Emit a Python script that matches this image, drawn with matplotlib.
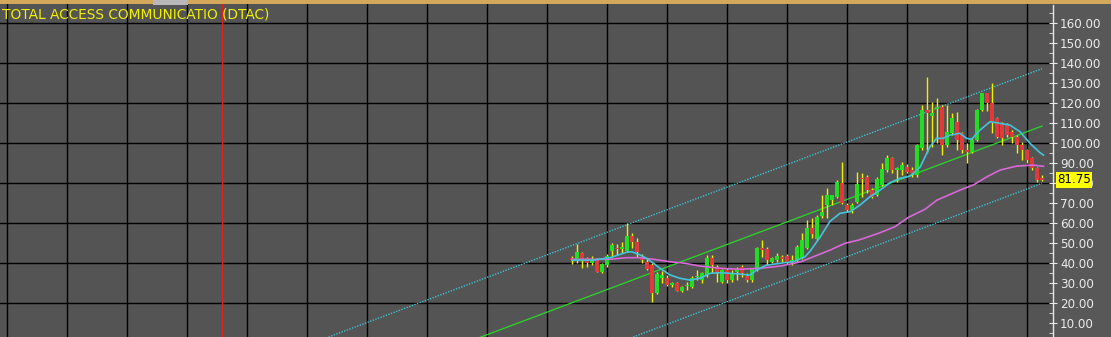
import numpy as np
import matplotlib.pyplot as plt
from matplotlib.patches import Rectangle

# weekly candles, index 0 = first bar on the chart
opens = [42.8, 41.2, 45.0, 42.5, 40.0, 41.6, 35.8, 39.2, 46.1, 47.5,
         47.0, 46.1, 53.8, 50.8, 43.0, 40.8, 39.2, 25.0, 32.5, 32.5,
         29.2, 30.0, 26.3, 28.5, 28.3, 33.0, 31.6, 34.2, 42.5, 38.3,
         30.8, 36.6, 31.6, 35.8, 38.3, 33.6, 31.6, 36.6, 47.5, 47.0,
         40.8, 41.6, 43.3, 43.6, 40.5, 41.6, 42.5, 47.5, 57.5, 52.0,
         63.5, 69.2, 71.6, 73.3, 80.3, 69.2, 66.6, 70.8, 82.5, 83.3,
         76.6, 74.2, 79.2, 86.6, 92.5, 86.6, 86.6, 88.3, 86.6, 84.2,
         97.5, 116.6, 113.6, 117.0, 118.3, 99.1, 105.0, 110.8, 105.0, 96.6,
         95.8, 101.6, 116.6, 125.0, 120.0, 112.5, 110.0, 109.0, 105.8, 103.3,
         99.1, 96.6, 92.5, 87.5, 82.5]
highs = [43.8, 49.5, 45.5, 43.0, 43.5, 42.5, 40.0, 44.5, 50.0, 49.6,
         50.8, 60.0, 55.0, 52.5, 44.5, 42.8, 40.0, 35.8, 36.2, 34.0,
         30.5, 30.5, 28.7, 30.5, 33.6, 36.6, 35.8, 44.2, 44.2, 39.2,
         37.0, 37.5, 36.6, 38.3, 39.2, 35.0, 37.5, 48.3, 51.6, 48.3,
         43.3, 45.0, 44.2, 44.6, 44.2, 49.0, 55.0, 61.6, 62.5, 64.0,
         74.2, 77.5, 74.2, 81.5, 90.8, 70.0, 70.0, 85.8, 85.0, 84.2,
         77.5, 83.0, 90.0, 94.2, 93.3, 88.3, 90.8, 89.5, 88.3, 99.5,
         119.1, 133.3, 120.8, 122.5, 119.0, 119.1, 115.0, 115.8, 105.8, 100.0,
         102.5, 117.0, 125.3, 125.3, 130.0, 113.3, 110.8, 110.0, 106.6, 104.2,
         100.8, 97.0, 93.3, 88.3, 84.0]
lows = [39.5, 40.0, 37.8, 38.3, 39.0, 35.5, 35.3, 38.3, 43.0, 44.0,
        45.0, 45.5, 47.5, 43.3, 40.0, 36.6, 20.5, 24.5, 30.0, 28.7,
        28.0, 26.0, 25.8, 26.5, 27.5, 31.5, 30.3, 33.3, 35.0, 30.8,
        30.3, 30.3, 30.8, 31.6, 33.3, 30.8, 30.8, 36.3, 43.3, 39.2,
        40.0, 40.8, 40.8, 39.6, 39.2, 40.8, 42.0, 47.0, 52.5, 51.5,
        62.5, 62.5, 69.0, 72.5, 69.5, 65.5, 65.0, 70.0, 73.3, 75.0,
        72.5, 73.5, 78.5, 85.8, 85.0, 80.8, 84.2, 85.0, 83.3, 83.3,
        96.6, 95.0, 98.3, 100.0, 94.1, 98.3, 104.0, 96.6, 95.0, 90.0,
        95.0, 101.3, 116.0, 116.0, 105.0, 102.5, 99.0, 103.0, 100.0, 95.0,
        91.6, 90.0, 86.6, 80.8, 81.0]
closes = [41.6, 45.8, 42.0, 40.3, 41.5, 35.8, 39.5, 43.6, 49.1, 47.0,
          48.0, 53.8, 50.5, 45.8, 41.5, 37.2, 25.0, 34.5, 34.3, 29.2,
          30.3, 26.3, 28.3, 29.0, 32.5, 33.8, 35.0, 42.5, 39.2, 35.0,
          36.6, 31.6, 35.3, 37.3, 35.0, 31.6, 37.0, 47.5, 46.5, 41.6,
          42.5, 43.5, 42.0, 40.8, 41.5, 48.3, 51.6, 57.5, 54.6, 63.0,
          65.5, 74.2, 74.0, 80.8, 70.0, 66.6, 69.2, 79.9, 82.0, 76.6,
          73.3, 82.0, 87.0, 92.5, 86.6, 87.5, 89.1, 85.8, 85.0, 99.1,
          116.6, 115.0, 115.3, 118.3, 99.1, 105.8, 112.5, 101.6, 96.6, 95.8,
          101.6, 116.6, 125.0, 120.0, 110.0, 103.3, 102.5, 104.0, 103.3, 99.1,
          96.6, 91.6, 87.5, 81.6, 81.75]

# moving averages (bar index, value)
ma_fast_x = [0, 4.3, 7.6, 10.9, 11.9, 13.6, 14.9, 16.3, 17.6, 19.6, 21.6, 23.6,
             25.6, 27.6, 29.6, 31.6, 33.6, 35.6, 36.9, 38.9, 41.6, 44.3, 46.6,
             47.6, 49.6, 51.6, 53.6, 55.6, 57.6, 59.6, 61.6, 63.6, 65.6, 67.6,
             69.6, 71.6, 72.9, 74.2, 75.6, 77.6, 78.9, 79.9, 81.6, 83.6, 85.6,
             87.6, 89.6, 91.6, 93.6, 94.3]
ma_fast_y = [41.6, 41.6, 42.8, 45.5, 45.8, 44.2, 42.5, 40.0, 37.5, 34.2, 32.5, 31.6,
             32.5, 35.0, 35.3, 35.0, 34.6, 34.1, 36.6, 39.1, 40.0, 40.8, 43.3,
             46.0, 53.0, 61.0, 65.0, 65.8, 69.1, 73.3, 76.6, 80.3, 82.5, 83.6,
             88.0, 98.3, 102.5, 102.5, 104.1, 105.0, 102.5, 102.0, 106.6, 110.8, 110.0,
             109.1, 105.8, 100.0, 95.3, 94.1]
ma_slow_x = [0, 7.6, 10.9, 13.6, 16.3, 19.6, 22.6, 25.6, 29.6, 33.6, 37.6, 41.6,
             45.6, 51.6, 54.6, 57.3, 61.3, 64.6, 67.3, 70.6, 73.0, 77.6, 80.3,
             83.0, 85.6, 88.9, 92.2, 94.3]
ma_slow_y = [42.0, 42.0, 42.8, 42.8, 42.0, 40.8, 40.0, 38.6, 37.5, 37.0, 37.5, 38.6,
             40.6, 46.6, 50.0, 51.6, 55.0, 58.3, 63.0, 67.0, 71.6, 76.6, 79.2,
             83.3, 86.6, 88.6, 89.1, 88.5]

# regression channel end points (bar index, value)
chan_x = [-120, 94]
chan_mid = [-92.5, 108.6]
chan_up = [-63.9, 137.3]
chan_lo = [-121.2, 80.0]

marker_bar = -70
last_price = 81.75
y_labels = list(range(10, 170, 10))

bg = '#545454'
fig = plt.figure(figsize=(11.11, 3.37), dpi=100, facecolor='#585858')
ax = fig.add_axes([0, 0, 1053 / 1111, 333 / 337])
ax.set_facecolor(bg)
ax.set_xlim(-114.4, 96.2)
ax.set_ylim(3.15, 169.65)

# grid
for gx in range(-113, 96, 12):
    ax.axvline(gx, color='black', lw=1.0, zorder=1)
for gy in range(20, 170, 20):
    ax.axhline(gy, color='black', lw=1.0, zorder=1)
ax.axvline(marker_bar, color='#e02020', lw=1.0, zorder=2)

# channel
ax.plot(chan_x, chan_mid, color='#2ecc2e', lw=1.0, zorder=3)
ax.plot(chan_x, chan_up, color='#3cc0cc', lw=1.0, ls=(0, (1, 1)), zorder=3)
ax.plot(chan_x, chan_lo, color='#3cc0cc', lw=1.0, ls=(0, (1, 1)), zorder=3)

# candles
idx = np.arange(len(closes))
o = np.array(opens); c = np.array(closes)
h = np.array(highs); l = np.array(lows)
ax.vlines(idx, l, h, color='#f0f000', lw=1.0, zorder=4)
up = c >= o
cols = np.where(up, '#22dd22', '#e23a3a')
bottoms = np.minimum(o, c)
heights = np.maximum(np.abs(c - o), 0.6)
ax.bar(idx, heights, bottom=bottoms, width=0.7, color=cols, lw=0, zorder=5)

# moving averages
ax.plot(ma_slow_x, ma_slow_y, color='#d868d8', lw=1.2, zorder=6)
ax.plot(ma_fast_x, ma_fast_y, color='#44c4dc', lw=1.2, zorder=6)

# right axis
for s in ['left', 'top', 'bottom']:
    ax.spines[s].set_visible(False)
ax.spines['right'].set_color('#e8e8e8')
ax.spines['right'].set_linestyle((0, (1, 1)))
ax.spines['right'].set_linewidth(1.0)
ax.set_xticks([])
ax.yaxis.tick_right()
ax.set_yticks(y_labels)
ax.set_yticklabels(['%.2f' % v for v in y_labels])
ax.set_yticks(np.arange(5, 170, 5), minor=True)
ax.tick_params(axis='y', which='major', direction='inout', length=6, color='#e8e8e8',
               labelcolor='#ececec', labelsize=8.6, pad=2)
ax.tick_params(axis='y', which='minor', direction='in', length=3, color='#e8e8e8')

# last price tag
ax.text(1 + 4 / 1053, last_price, '%.2f' % last_price, transform=ax.get_yaxis_transform(),
        fontsize=8.6, color='black', va='center', ha='left', zorder=10,
        bbox=dict(boxstyle='square,pad=0.12', fc='#ffff00', ec='none'))

# title
fig.text(2 / 1111, 1 - 15 / 337, 'TOTAL ACCESS COMMUNICATIO (DTAC)', color='#f2f200',
         fontsize=9.9, va='center', ha='left')

# top bar
fig.patches.append(Rectangle((0, 333 / 337), 1, 4 / 337, transform=fig.transFigure,
                             fc='#d4a85a', ec='none'))
fig.patches.append(Rectangle((153 / 1111, 332 / 337), 35 / 1111, 5 / 337,
                             transform=fig.transFigure, fc='#b8b8b8', ec='none'))

fig.savefig('out.png', dpi=100, facecolor=fig.get_facecolor())
